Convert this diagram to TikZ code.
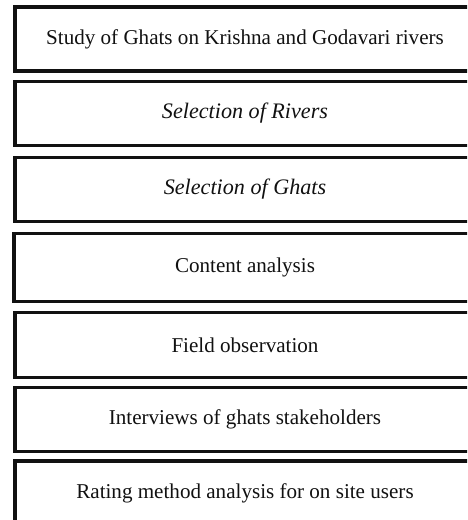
\documentclass[tikz,border=0pt]{standalone}
\usepackage{fontspec}
\setmainfont{Liberation Serif}
\usetikzlibrary{positioning}
\definecolor{ink}{HTML}{111111}
\tikzset{
  every node/.append style = {text=ink},
  % --- method stages ------------------------------------------------------
  stagebox/.style  = {draw=ink, fill=white, line width=1.8pt,
                      minimum width=9.20cm, minimum height=1.28cm,
                      inner sep=0pt, font=\fontsize{12}{14}\selectfont},
  stageit/.style   = {stagebox, font=\fontsize{12.6}{14}\selectfont\itshape},
}

\begin{document}
\begin{tikzpicture}

% ============================ frame ========================================
\useasboundingbox (0,0) rectangle (9.34,-10.40);
\clip (0,0) rectangle (9.34,-10.40);

% ============================ stages =======================================
\node[stagebox] (study)   at (4.90,-0.78) {Study of Ghats on Krishna and Godavari rivers};
\node[stageit]  (rivers)  at (4.90,-2.27) {Selection of Rivers};
\node[stageit]  (ghats)   at (4.90,-3.79) {Selection of Ghats};
\node[stagebox, minimum height=1.36cm, minimum width=9.24cm]
                (content) at (4.90,-5.35) {Content analysis};
\node[stagebox, minimum height=1.30cm]
                (field)   at (4.90,-6.90) {Field observation};
\node[stagebox] (interv)  at (4.90,-8.39) {Interviews of ghats stakeholders};
\node[stagebox] (rating)  at (4.90,-9.86) {Rating method analysis for on site users};

\end{tikzpicture}
\end{document}
